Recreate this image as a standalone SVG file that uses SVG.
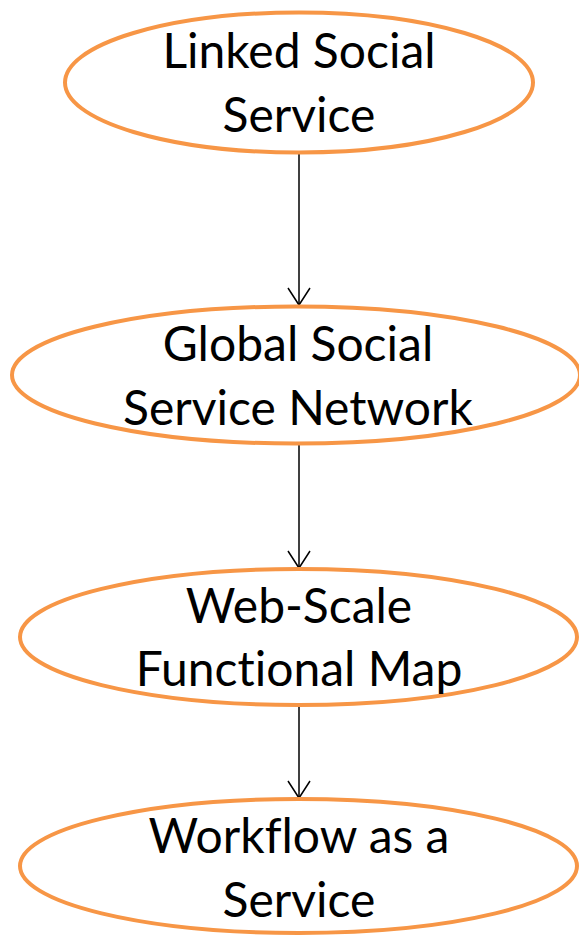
<svg xmlns="http://www.w3.org/2000/svg" width="579" height="935" viewBox="0 0 579 935">
  <style>
    .node ellipse { fill: #ffffff; stroke: #F79646; stroke-width: 4; }
    .node text { font-family: Lato, "Open Sans", "Liberation Sans", sans-serif; font-size: 48px; fill: #000000; text-anchor: middle; font-variant-ligatures: none; }
    .edge { stroke: #000000; stroke-width: 1.5; fill: none; marker-end: url(#arrow); }
  </style>
  <defs>
    <marker id="arrow" markerUnits="userSpaceOnUse" viewBox="0 0 18 24" markerWidth="18" markerHeight="24" refX="17" refY="12" orient="auto" overflow="visible">
      <path d="M0,1 L17,12 L0,23" fill="none" stroke="#000000" stroke-width="1.5"/>
    </marker>
  </defs>

  <rect width="579" height="935" fill="#ffffff"/>

  <g id="connectors">
    <line class="edge" x1="299" y1="154" x2="299" y2="305"/>
    <line class="edge" x1="299" y1="444" x2="299" y2="568"/>
    <line class="edge" x1="299" y1="706" x2="299" y2="798"/>
  </g>

  <g id="linked-social-service" class="node">
    <ellipse cx="299" cy="82.5" rx="234" ry="70"/>
    <text x="299" y="68">Linked Social</text>
    <text x="299" y="132">Service</text>
  </g>

  <g id="global-social-service-network" class="node">
    <ellipse cx="296" cy="375" rx="284" ry="68.5"/>
    <text x="298" y="361">Global Social</text>
    <text x="298" y="425">Service Network</text>
  </g>

  <g id="web-scale-functional-map" class="node">
    <ellipse cx="298.5" cy="637" rx="278.5" ry="68"/>
    <text x="299" y="623">Web-Scale</text>
    <text x="299" y="686">Functional Map</text>
  </g>

  <g id="workflow-as-a-service" class="node">
    <ellipse cx="298.5" cy="866" rx="278.5" ry="67"/>
    <text x="299" y="853">Workflow as a</text>
    <text x="299" y="917">Service</text>
  </g>
</svg>
